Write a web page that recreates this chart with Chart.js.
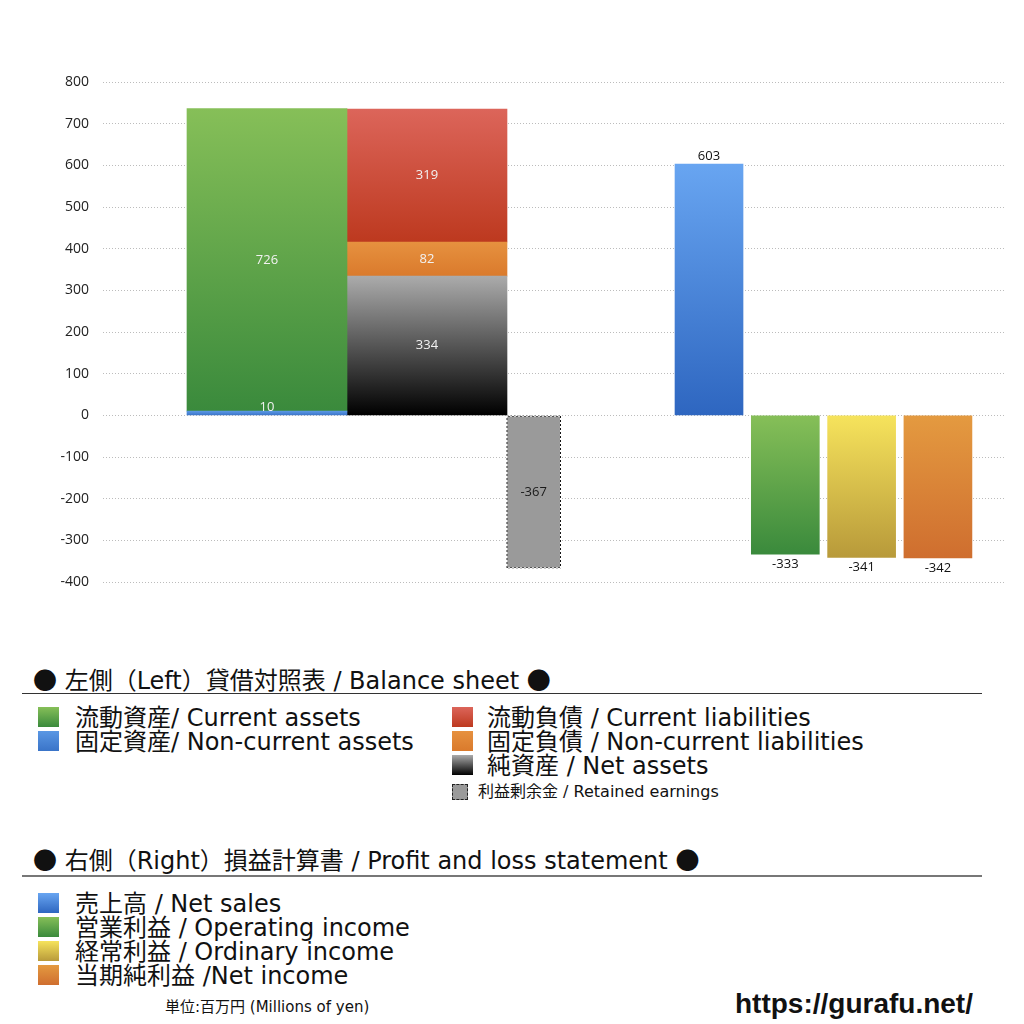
<!DOCTYPE html>
<html>
<head>
<meta charset="utf-8">
<script src="https://cdn.jsdelivr.net/npm/chart.js@4.4.0/dist/chart.umd.min.js"></script>
<style>
body { margin: 0; background: #fff; font-family: "DejaVu Sans", "Noto Sans CJK JP", sans-serif; color: #111; }
#wrap { position: absolute; left: 0; top: 0; width: 1024px; height: 620px; }
.txt { position: absolute; white-space: nowrap; }
.sw { position: absolute; }
.rule { position: absolute; left: 22px; width: 960px; }
.dot { font-family: "Noto Sans CJK JP", sans-serif; }
</style>
</head>
<body>
<div id="wrap"><canvas id="chart"></canvas></div>
<div id="legend"></div>
<script>
// y axis
const yMin = -400
const yMax = 800
const yStep = 100

// balance sheet (left side)
const bsLegend = ['流動資産/ Current assets', '固定資産/ Non-current assets', '流動負債 /  Current liabilities', '固定負債 / Non-current liabilities', '純資産 / Net assets', '利益剰余金 / Retained earnings']
const bsValues = [726, 10, 319, 82, 334, -367]
const bsColumn = ['assets', 'assets', 'liabilities', 'liabilities', 'liabilities', 'retained']

// profit and loss (right side)
const plLegend = ['売上高 / Net sales', '営業利益 / Operating income', '経常利益 / Ordinary income', '当期純利益 /Net income']
const plValues = [603, -333, -341, -342]

const bsTitle = '● 左側（Left）貸借対照表 / Balance sheet ●'
const plTitle = '● 右側（Right）損益計算書 / Profit and loss statement ●'
const unitNote = '単位:百万円 (Millions of yen)'
const siteUrl = 'https://gurafu.net/'

// colours, top -> bottom of each bar
const bsColors = [['#86bf58', '#3a8a3c'], ['#5a97e4', '#3a74c8'], ['#dc655a', '#bd391f'], ['#e6913f', '#da7a2c'], ['#ababab', '#000000'], ['#9a9a9a', '#9a9a9a']]
const plColors = [['#68a5f1', '#2e66c0'], ['#86bf58', '#3a8a3c'], ['#f6e35c', '#b89a3a'], ['#e49a40', '#cf6e2f']]

// bottom-up order inside each stacked column
const stackOrder = [1, 0, 4, 3, 2, 5]
const columnSlot = { assets: 0, liabilities: 3, retained: 5 }
const columnWidth = { assets: 160, liabilities: 160, retained: 54 }

function grad(chart, v0, v1, top, bottom) {
    const area = chart.chartArea
    if (!area) return bottom
    const y = chart.scales.y
    const y0 = y.getPixelForValue(Math.max(v0, v1))
    const y1 = y.getPixelForValue(Math.min(v0, v1))
    const g = chart.ctx.createLinearGradient(0, y0, 0, y1 + 0.01)
    g.addColorStop(0, top)
    g.addColorStop(1, bottom)
    return g
}

// dotted border for the retained earnings bar
function dotPattern() {
    const c = document.createElement('canvas')
    c.width = 4; c.height = 4
    const x = c.getContext('2d')
    x.fillStyle = '#111'
    x.fillRect(0, 0, 2, 2)
    x.fillRect(2, 2, 2, 2)
    return x.createPattern(c, 'repeat')
}
const dots = dotPattern()

const running = {}
const datasets = stackOrder.map(i => {
    const col = bsColumn[i]
    const v = bsValues[i]
    const base = v >= 0 ? (running[col] || 0) : 0
    if (v >= 0) running[col] = base + v
    const c = bsColors[i]
    const isRetained = col === 'retained'
    return {
        label: bsLegend[i],
        xAxisID: 'xL',
        grouped: false,
        data: [{ x: columnSlot[col], y: v }],
        barThickness: columnWidth[col],
        backgroundColor: ctx => grad(ctx.chart, base, base + v, c[0], c[1]),
        borderColor: isRetained ? dots : 'rgba(0,0,0,0)',
        borderWidth: isRetained ? 1 : 0,
        borderSkipped: false,
        labelPlace: 'inside',
        labelColor: isRetained ? '#1a1a1a' : '#f2f2f2'
    }
})

datasets.push({
    label: '損益計算書',
    xAxisID: 'xR',
    grouped: false,
    data: plValues.map((v, i) => ({ x: i, y: v })),
    barThickness: 68,
    backgroundColor: ctx => grad(ctx.chart, 0, plValues[ctx.dataIndex], plColors[ctx.dataIndex][0], plColors[ctx.dataIndex][1]),
    borderWidth: 0,
    labelPlace: 'outside'
})

const valueLabels = {
    id: 'valueLabels',
    afterDatasetsDraw(chart) {
        const ctx = chart.ctx
        ctx.save()
        ctx.font = '13px "Open Sans"'
        ctx.textAlign = 'center'
        ctx.textBaseline = 'middle'
        chart.data.datasets.forEach((ds, di) => {
            chart.getDatasetMeta(di).data.forEach((bar, i) => {
                const v = ds.data[i].y
                let y
                if (ds.labelPlace === 'outside') {
                    ctx.fillStyle = '#111'
                    y = v < 0 ? bar.y + 10 : bar.y - 8
                } else {
                    ctx.fillStyle = ds.labelColor
                    y = (bar.y + bar.base) / 2
                    // too thin to hold the number
                    if (Math.abs(bar.base - bar.y) < 14) y = bar.y - 4
                }
                ctx.fillText(String(v), bar.x, y)
            })
        })
        ctx.restore()
    }
}

new Chart(document.getElementById('chart').getContext('2d'), {
    type: 'bar',
    data: { datasets: datasets },
    options: {
        responsive: true,
        maintainAspectRatio: false,
        animation: false,
        layout: { padding: { top: 82, right: 19, bottom: 38, left: 0 } },
        plugins: { legend: { display: false }, tooltip: { enabled: false } },
        scales: {
            xL: { type: 'linear', display: false, stacked: true, bounds: 'data', offset: false, min: -3.075, max: 13.838 },
            xR: { type: 'linear', display: false, stacked: true, bounds: 'data', offset: false, min: -7.942, max: 3.879 },
            y: {
                stacked: true,
                min: yMin,
                max: yMax,
                afterFit: s => { s.width = 103 },
                ticks: { stepSize: yStep, padding: 14, color: '#222', font: { family: 'Open Sans', size: 14 } },
                grid: { color: '#bcbcbc', drawTicks: false, lineWidth: 1 },
                border: { display: false, dash: [1, 2] }
            }
        }
    },
    plugins: [valueLabels]
})

// legend below the chart
const legend = document.getElementById('legend')

function addText(text, left, centerY, size, extra) {
    const d = document.createElement('div')
    d.className = 'txt'
    // big round bullets come from the CJK font
    text.split('●').forEach((part, k) => {
        if (k > 0) {
            const s = document.createElement('span')
            s.className = 'dot'
            s.textContent = '●'
            d.appendChild(s)
        }
        d.appendChild(document.createTextNode(part))
    })
    d.style.left = left + 'px'
    d.style.top = (centerY - size * 0.56 + size / 12) + 'px'
    d.style.fontSize = size + 'px'
    d.style.lineHeight = size + 'px'
    if (extra) Object.assign(d.style, extra)
    legend.appendChild(d)
}

function addSwatch(colors, left, centerY, size, dashed) {
    const d = document.createElement('div')
    d.className = 'sw'
    d.style.left = left + 'px'
    d.style.top = (centerY - size / 2) + 'px'
    d.style.width = (dashed ? size - 2 : size + 1) + 'px'
    d.style.height = (dashed ? size - 2 : size) + 'px'
    d.style.background = 'linear-gradient(' + colors[0] + ',' + colors[1] + ')'
    if (dashed) d.style.border = '1px dashed #222'
    legend.appendChild(d)
}

function addRule(top, color, h) {
    const d = document.createElement('div')
    d.className = 'rule'
    d.style.top = top + 'px'
    d.style.height = h + 'px'
    d.style.background = color
    legend.appendChild(d)
}

addText(bsTitle, 33, 678, 24)
addRule(693, '#333', 1)

const bsRows = [[38, 75, 717], [38, 75, 741], [452, 487, 717], [452, 487, 741], [452, 487, 765]]
bsRows.forEach((r, i) => {
    addSwatch(bsColors[i], r[0], r[2], 20)
    addText(bsLegend[i], r[1], r[2], 24)
})
addSwatch(bsColors[5], 452, 792, 16, true)
addText(bsLegend[5], 478, 792, 16)

addText(plTitle, 33, 858, 24)
addRule(875, '#777', 2)

plLegend.forEach((t, i) => {
    addSwatch(plColors[i], 38, 903 + i * 24, 20)
    addText(t, 75, 903 + i * 24, 24)
})

addText(unitNote, 165, 1007, 15)
addText(siteUrl, 735, 1003, 28, { fontFamily: '"Liberation Sans", Arial, sans-serif', fontWeight: 'bold' })
</script>
</body>
</html>
